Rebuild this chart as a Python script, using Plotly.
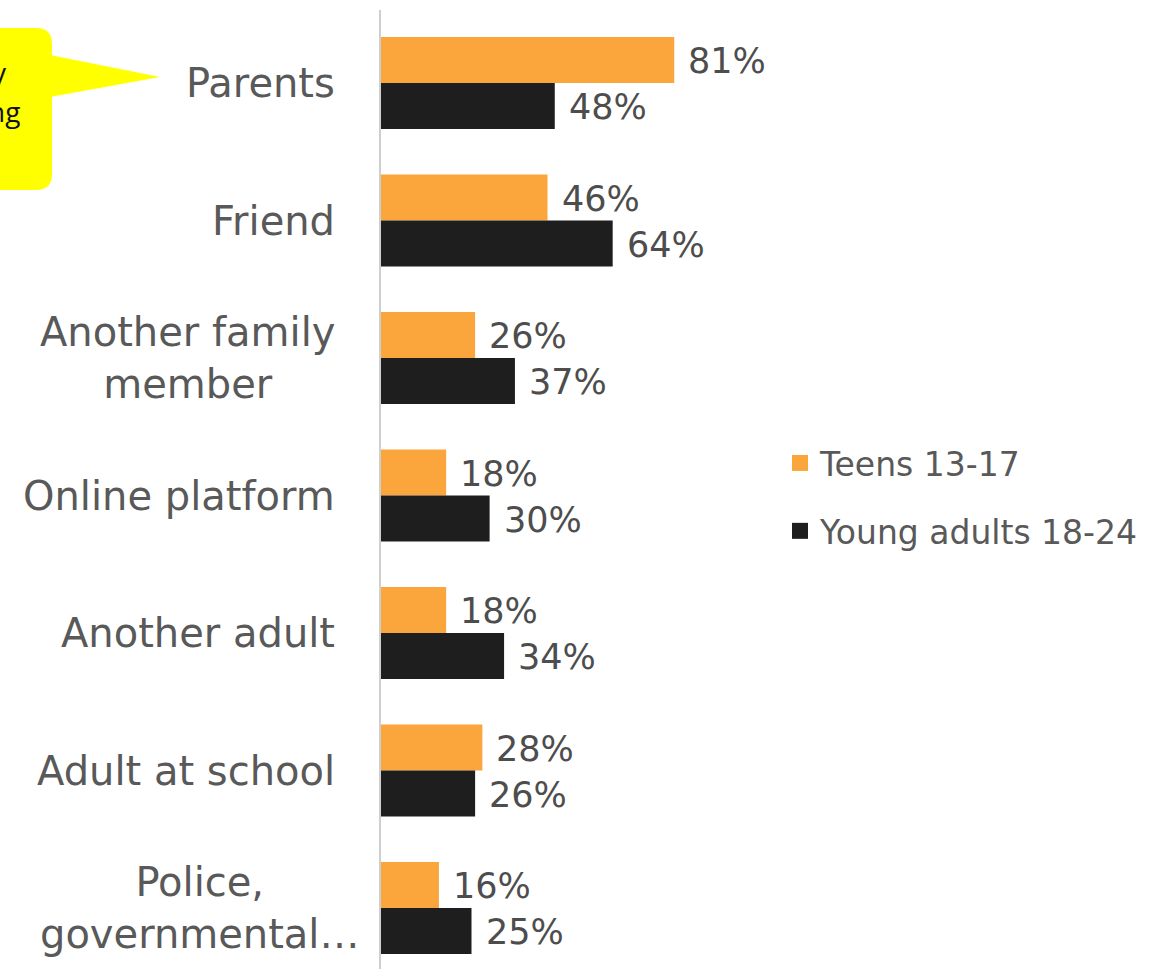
import plotly.graph_objects as go

categories = ["Parents", "Friend", "Another family<br>member", "Online platform",
              "Another adult", "Adult at school", "Police,<br>governmental…"]
teens = [81, 46, 26, 18, 18, 28, 16]
young_adults = [48, 64, 37, 30, 34, 26, 25]
series_names = ["Teens 13-17", "Young adults 18-24"]
colors = ["#FBA63C", "#1E1E1E"]
label_color = "#595959"
label_right_edge = [337, 337, 337, 337, 337, 337, 361]

W, H = 1165, 969
ML, MR, MT, MB = 381, 385, 10, 0
PW, PH = W - ML - MR, H - MT - MB


def px(x):
    return (x - ML) / PW


def py(y):
    return 1 - (y - MT) / PH


fig = go.Figure()
for name, vals, col in zip(series_names, [teens, young_adults], colors):
    fig.add_trace(go.Bar(x=vals, y=categories, orientation="h", name=name,
                         marker=dict(color=col, line=dict(width=0)),
                         showlegend=False, hoverinfo="x+y"))
    fig.add_trace(go.Scatter(x=[None], y=[None], mode="markers", name=name,
                             legendgroup=name,
                             marker=dict(symbol="square", size=16, color=col)))

annotations = []
# category labels
for c, edge in zip(categories, label_right_edge):
    annotations.append(dict(xref="paper", yref="y", x=px(edge), y=c, text=c,
                            xanchor="right", yanchor="middle", align="center",
                            showarrow=False,
                            font=dict(family="DejaVu Sans", size=40, color=label_color)))
# value labels
for vals, shift in [(teens, 22), (young_adults, -24)]:
    for c, v in zip(categories, vals):
        annotations.append(dict(xref="x", yref="y", x=v, y=c, text=f"{v}%",
                                xanchor="left", yanchor="middle", xshift=12, yshift=shift,
                                showarrow=False,
                                font=dict(family="DejaVu Sans", size=35, color="#4d4d4d")))
# callout fragments (text is cut off at the left edge in the original)
annotations.append(dict(xref="paper", yref="paper", x=px(9), y=py(72), text="y",
                        xanchor="right", yanchor="middle", showarrow=False,
                        font=dict(family="Open Sans", size=28, color="#111111")))
annotations.append(dict(xref="paper", yref="paper", x=px(22), y=py(111), text="ng",
                        xanchor="right", yanchor="middle", showarrow=False,
                        font=dict(family="Open Sans", size=28, color="#111111")))

# callout shape (rounded box + pointer)
r = 16
L, R, T, B = -20, 52, 28, 190
box = (f"M {px(L)},{py(T)} L {px(R - r)},{py(T)} "
       f"Q {px(R)},{py(T)} {px(R)},{py(T + r)} "
       f"L {px(R)},{py(B - r)} Q {px(R)},{py(B)} {px(R - r)},{py(B)} "
       f"L {px(L)},{py(B)} Z")
tri = f"M {px(50)},{py(55)} L {px(160)},{py(77)} L {px(50)},{py(97)} Z"
shapes = [
    dict(type="path", xref="paper", yref="paper", path=box,
         fillcolor="#FFFF00", line=dict(width=0), layer="below"),
    dict(type="path", xref="paper", yref="paper", path=tri,
         fillcolor="#FFFF00", line=dict(width=0), layer="below"),
]

fig.update_layout(
    width=W, height=H,
    margin=dict(l=ML, r=MR, t=MT, b=MB, autoexpand=False),
    paper_bgcolor="white", plot_bgcolor="white",
    font=dict(family="DejaVu Sans", color=label_color),
    barmode="group", bargap=0.33, bargroupgap=0,
    xaxis=dict(range=[0, PW / 3.62], visible=False, showgrid=False, zeroline=False),
    yaxis=dict(type="category", categoryorder="array", categoryarray=categories,
               range=[(H - 83) / 137.5, -(83 - MT) / 137.5],
               showticklabels=False, ticks="", showgrid=False, zeroline=False,
               showline=True, linecolor="#cfcfcf", linewidth=2),
    legend=dict(x=px(780), y=py(497), xanchor="left", yanchor="middle",
                traceorder="grouped", tracegroupgap=22,
                font=dict(family="DejaVu Sans", size=33, color=label_color),
                bgcolor="rgba(0,0,0,0)", itemclick=False),
    showlegend=True,
    annotations=annotations,
    shapes=shapes,
)

fig.write_html("out.html",
               config={"displayModeBar": False},
               post_script="document.body.style.margin='0';"
                           "document.body.style.overflow='hidden';")
